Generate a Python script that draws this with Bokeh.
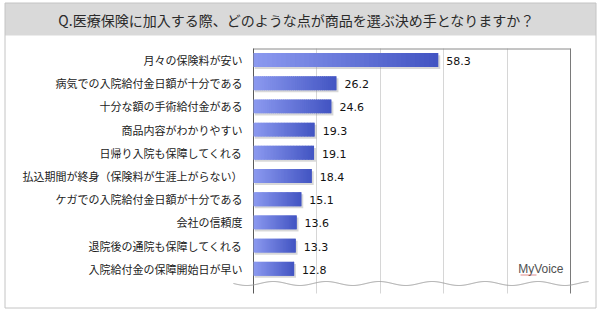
import numpy as np
from bokeh.plotting import figure
from bokeh.models import Range1d, FixedTicker, Grid
from bokeh.core.properties import value
from bokeh.embed import file_html
from bokeh.resources import INLINE

title_text = "Q.医療保険に加入する際、どのような点が商品を選ぶ決め手となりますか？"
categories = [
    "月々の保険料が安い",
    "病気での入院給付金日額が十分である",
    "十分な額の手術給付金がある",
    "商品内容がわかりやすい",
    "日帰り入院も保障してくれる",
    "払込期間が終身（保険料が生涯上がらない）",
    "ケガでの入院給付金日額が十分である",
    "会社の信頼度",
    "退院後の通院も保障してくれる",
    "入院給付金の保障開始日が早い",
]
values = [58.3, 26.2, 24.6, 19.3, 19.1, 18.4, 15.1, 13.6, 13.3, 12.8]
grid_ticks = [20, 40, 60, 80]
x_max = 100
logo_text = "MyVoice"

rows = list(range(len(categories)))

# ---- layout (pixels) ----
W, H = 600, 312
PL, PR, PT, PB = 253, 570, 48, 293        # plot area
ROW0, ROWSTEP = 59.5, 23.2               # first row centre, row spacing
sx = (PR - PL) / x_max

x_start = -PL / sx
x_end = x_max + (W - PR) / sx
y_top = -ROW0 / ROWSTEP
y_bot = (H - ROW0) / ROWSTEP
plot_top_y = (PT - ROW0) / ROWSTEP
plot_bot_y = (PB - ROW0) / ROWSTEP

p = figure(width=W, height=H, output_backend="svg", toolbar_location=None,
           x_range=Range1d(x_start, x_end), y_range=Range1d(y_bot, y_top),
           x_axis_location=None, y_axis_location=None,
           min_border=0)
p.extra_x_ranges = {"px": Range1d(0, W)}
p.extra_y_ranges = {"px": Range1d(H, 0)}
p.outline_line_color = None
p.background_fill_color = "white"
p.border_fill_color = "white"
p.grid.visible = False

# outer frame + title band
p.quad(left=[4.5], right=[595.5], top=[2.5], bottom=[35], x_range_name="px", y_range_name="px",
       fill_color="#d9d9d9", line_color=None)
p.quad(left=[4.5], right=[595.5], top=[2.5], bottom=[307.5], x_range_name="px", y_range_name="px",
       fill_alpha=0, line_color="#c4c4c4", line_width=1)
p.text(x=[296], y=[19], text=[title_text], x_range_name="px", y_range_name="px",
       text_align="center", text_baseline="middle", text_font=value("Noto Sans CJK JP"),
       text_font_size="14px", text_color="#2a2a2a")

# gridlines
g = Grid(dimension=0, ticker=FixedTicker(ticks=grid_ticks), cross_bounds=(plot_bot_y, plot_top_y),
         grid_line_color="#d6d6d6", grid_line_width=1)
p.add_layout(g)

# plot-area frame lines (top, right, left axis)
p.segment(x0=[PL, PR, PL], y0=[PT + 0.5, PT, PT], x1=[PR, PR, PL], y1=[PT + 0.5, PB, PB],
          x_range_name="px", y_range_name="px",
          line_color=["#8a8a8a", "#7a7a7a", "#5a5a5a"], line_width=1)

# category labels
p.text(x=[0] * len(rows), y=rows, text=categories, x_offset=-11,
       text_align="right", text_baseline="middle", text_font=value("Noto Sans CJK JP"),
       text_font_size="11px", text_color="#222222")

# shadow
p.hbar(y=[r + 0.09 for r in rows], left=0.4, right=[v + 0.6 for v in values], height=0.6,
       fill_color="#909090", fill_alpha=0.35, line_color=None)

# gradient bars (each bar split into slices of interpolated colour)
N = 40
c0 = np.array([140, 154, 240])
c1 = np.array([66, 84, 194])
lefts, rights, ys, cols = [], [], [], []
for r, v in zip(rows, values):
    for k in range(N):
        lefts.append(v * k / N)
        rights.append(v * (k + 1) / N + (0.35 if k < N - 1 else 0))
        ys.append(r)
        t = (k + 0.5) / N
        c = c0 + (c1 - c0) * t
        cols.append("#%02x%02x%02x" % tuple(int(round(x)) for x in c))
p.hbar(y=ys, left=lefts, right=rights, height=0.6, fill_color=cols, line_color=None)

# value labels
p.text(x=values, y=rows, text=[f"{v:.1f}" for v in values], x_offset=8, y_offset=1,
       text_font=value("DejaVu Sans"), text_font_size="11px", text_color="#111111",
       text_baseline="middle", text_align="left")

# wave (axis break mark)
wx = np.arange(233, 589, 1.0)
wy = 283 + 2.0 * np.sin(2 * np.pi * (wx - 233) / 53.0)
p.line(x=wx, y=wy, x_range_name="px", y_range_name="px", line_color="#a0a0a0", line_width=1)

# logo
p.text(x=[563], y=[268], text=[logo_text], x_range_name="px", y_range_name="px",
       text_align="right", text_baseline="middle", text_font=value("Liberation Sans"),
       text_font_size="12px", text_color="#505050")
p.line(x=[520, 536], y=[274.5, 274.5], x_range_name="px", y_range_name="px",
       line_color="#d06060", line_width=1, line_alpha=0.7)

open("out.html", "w").write(file_html(p, INLINE))
